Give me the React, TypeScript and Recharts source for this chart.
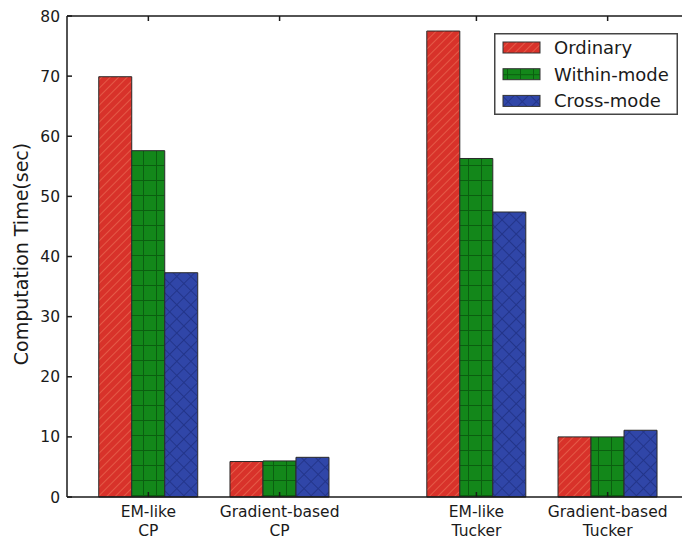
import { BarChart, Bar, XAxis, YAxis, Legend } from 'recharts';

// groups sit at x = 1, 2, 3.5, 4.5 so the Tucker pair is set apart from the CP pair
const groupLabels = ['EM-like\nCP', 'Gradient-based\nCP', 'EM-like\nTucker', 'Gradient-based\nTucker'];
const groupPositions = [1, 2, 3.5, 4.5];
const ordinary = [69.9, 5.9, 77.5, 10.0];
const withinMode = [57.6, 6.0, 56.3, 10.0];
const crossMode = [37.3, 6.6, 47.4, 11.1];
const yTicks = [0, 10, 20, 30, 40, 50, 60, 70, 80];

const seriesInfo = [
  { key: 'ordinary', name: 'Ordinary', fill: 'url(#hatchRed)' },
  { key: 'withinMode', name: 'Within-mode', fill: 'url(#gridGreen)' },
  { key: 'crossMode', name: 'Cross-mode', fill: 'url(#crossBlue)' },
];

const data = groupPositions.map((pos, i) => ({
  pos,
  ordinary: ordinary[i],
  withinMode: withinMode[i],
  crossMode: crossMode[i],
}));

const FONT = 'DejaVu Sans, sans-serif';
const INK = '#1a1a1a';

const labelFor = (v: number) => groupLabels[groupPositions.indexOf(v)] ?? '';

const BottomTick = ({ x, y, payload }: any) => {
  const lines = labelFor(payload.value).split('\n');
  return (
    <g>
      <line x1={x} y1={y} x2={x} y2={y - 5} stroke={INK} strokeWidth={1.5} />
      <text x={x} y={y + 20} textAnchor="middle" fontFamily={FONT} fontSize={15.5} fill={INK}>
        {lines.map((l, i) => (
          <tspan key={i} x={x} dy={i === 0 ? 0 : 19}>{l}</tspan>
        ))}
      </text>
    </g>
  );
};

const TopTick = ({ x, y }: any) => (
  <line x1={x} y1={y} x2={x} y2={y + 5} stroke={INK} strokeWidth={1.5} />
);

const LeftTick = ({ x, y, payload }: any) => (
  <g>
    <line x1={x} y1={y} x2={x + 5} y2={y} stroke={INK} strokeWidth={1.5} />
    <text x={x - 7} y={y} dy={5.5} textAnchor="end" fontFamily={FONT} fontSize={15.5} fill={INK}>
      {payload.value}
    </text>
  </g>
);

const LegendBox = () => (
  <svg width={184} height={82} style={{ display: 'block' }}>
    <rect x={0.75} y={0.75} width={182.5} height={80.5} fill="#fff" stroke="#444" strokeWidth={1.5} />
    {seriesInfo.map((s, i) => (
      <g key={s.key} transform={`translate(0, ${14.5 + i * 26.7})`}>
        <rect x={9} y={-5.5} width={37} height={11} fill={s.fill} stroke="#333" strokeWidth={1} />
        <text x={60} y={6.3} fontFamily={FONT} fontSize={18} fill={INK}>{s.name}</text>
      </g>
    ))}
  </svg>
);

export default function App() {
  return (
    <div style={{ position: 'fixed', left: 0, top: 0, width: 682, height: 540, overflow: 'hidden', background: '#fff' }}>
      <svg width={0} height={0} style={{ position: 'absolute' }}>
        <defs>
          <pattern id="hatchRed" width={6} height={6} patternUnits="userSpaceOnUse" patternTransform="rotate(45)">
            <rect width={6} height={6} fill="#d8322a" />
            <line x1={0} y1={0} x2={0} y2={6} stroke="#e8644e" strokeWidth={1.6} />
          </pattern>
          <pattern id="gridGreen" width={13} height={15} patternUnits="userSpaceOnUse">
            <rect width={13} height={15} fill="#13871a" />
            <line x1={0.5} y1={0} x2={0.5} y2={15} stroke="#0b5e10" strokeWidth={1} />
            <line x1={0} y1={0.5} x2={13} y2={0.5} stroke="#0b5e10" strokeWidth={1} />
          </pattern>
          <pattern id="crossBlue" width={10} height={10} patternUnits="userSpaceOnUse" patternTransform="rotate(45)">
            <rect width={10} height={10} fill="#3046a8" />
            <line x1={0.5} y1={0} x2={0.5} y2={10} stroke="#23358a" strokeWidth={1} />
            <line x1={0} y1={0.5} x2={10} y2={0.5} stroke="#23358a" strokeWidth={1} />
          </pattern>
        </defs>
      </svg>
      <BarChart
        width={689}
        height={540}
        data={data}
        margin={{ top: 0, right: 0, bottom: 0, left: 0 }}
        barGap={0}
      >
        <XAxis
          dataKey="pos"
          type="number"
          domain={[0.38, 5.12]}
          ticks={groupPositions}
          interval={0}
          height={43}
          tickSize={0}
          tickMargin={0}
          tickLine={false}
          axisLine={{ stroke: INK, strokeWidth: 1.5 }}
          tick={<BottomTick />}
          allowDataOverflow
        />
        <XAxis
          xAxisId="top"
          orientation="top"
          dataKey="pos"
          type="number"
          domain={[0.38, 5.12]}
          ticks={groupPositions}
          interval={0}
          height={16}
          tickSize={0}
          tickMargin={0}
          tickLine={false}
          axisLine={{ stroke: INK, strokeWidth: 1.5 }}
          tick={<TopTick />}
          allowDataOverflow
        />
        <YAxis
          domain={[0, 80]}
          ticks={yTicks}
          interval={0}
          width={67}
          tickSize={0}
          tickMargin={0}
          tickLine={false}
          axisLine={{ stroke: INK, strokeWidth: 1.5 }}
          tick={<LeftTick />}
          label={() => (
            <text
              x={28}
              y={254}
              transform="rotate(-90 28 254)"
              textAnchor="middle"
              fontFamily={FONT}
              fontSize={19}
              fill={INK}
            >
              Computation Time(sec)
            </text>
          )}
        />
        <Legend
          layout="vertical"
          align="center"
          verticalAlign="middle"
          content={() => <LegendBox />}
          wrapperStyle={{ left: 494, top: 33, width: 184, height: 82 }}
        />
        {seriesInfo.map(s => (
          <Bar
            key={s.key}
            dataKey={s.key}
            name={s.name}
            fill={s.fill}
            stroke="#2a2a2a"
            strokeWidth={1}
            barSize={33}
            isAnimationActive={false}
          />
        ))}
      </BarChart>
    </div>
  );
}
